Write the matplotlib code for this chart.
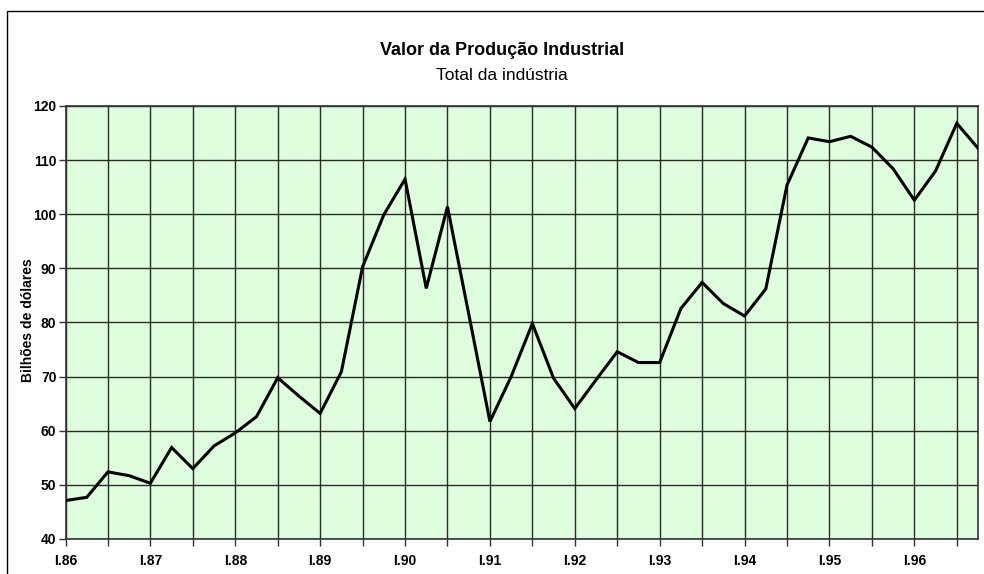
import matplotlib
matplotlib.use("Agg")
import matplotlib.pyplot as plt
from matplotlib.patches import Rectangle

plt.rcParams['font.family'] = ['Liberation Sans', 'DejaVu Sans']

# anos (rotulos do eixo x, um por ano, trimestre I)
anos = ["I.86", "I.87", "I.88", "I.89", "I.90", "I.91",
        "I.92", "I.93", "I.94", "I.95", "I.96"]

# valor trimestral, bilhoes de dolares (I.86 .. IV.96)
valores = [
    47.1, 47.7, 52.4, 51.7,
    50.3, 56.9, 53.0, 57.2,
    59.6, 62.6, 69.8, 66.4,
    63.2, 70.9, 90.3, 99.9,
    106.5, 86.3, 101.4, 81.6,
    61.7, 70.0, 79.8, 69.7,
    64.1, 69.4, 74.6, 72.6,
    72.6, 82.6, 87.4, 83.5,
    81.2, 86.2, 105.4, 114.1,
    113.4, 114.4, 112.4, 108.4,
    102.6, 108.0, 116.8, 112.2,
]

fig = plt.figure(figsize=(9.84, 5.74), dpi=100)
ax = fig.add_axes([65.5 / 984, 1 - 539 / 574, (978 - 65.5) / 984, (539 - 106) / 574])

x = list(range(len(valores)))
ax.set_facecolor('#ddfddd')
ax.plot(x, valores, color='black', lw=2.2, zorder=3, solid_joinstyle='miter')

ax.set_xlim(0, len(valores) - 1)
ax.set_ylim(40, 120)
ax.set_yticks(range(40, 121, 10))

semestres = list(range(0, len(valores), 2))
ax.set_xticks(semestres)
ax.set_xticklabels([anos[i // 4] if i % 4 == 0 else "" for i in semestres])

ax.grid(True, color='#2a2a2a', lw=1.0, zorder=1)
ax.set_axisbelow(True)
for s in ax.spines.values():
    s.set_color('#333333')
    s.set_linewidth(1.2)

ax.tick_params(axis='both', direction='out', length=5, width=1, color='#333333',
               labelsize=10)
ax.tick_params(axis='y', pad=1.5)
ax.tick_params(axis='x', pad=6)
for lab in ax.get_xticklabels() + ax.get_yticklabels():
    lab.set_fontweight('bold')

fig.text(28 / 984, 1 - 320 / 574, "Bilhões de dólares", rotation=90,
         ha='center', va='center', fontsize=10, fontweight='bold')

fig.text(502 / 984, 1 - 55 / 574, "Valor da Produção Industrial",
         ha='center', va='baseline', fontsize=13, fontweight='bold')
fig.text(502 / 984, 1 - 80 / 574, "Total da indústria",
         ha='center', va='baseline', fontsize=12.5)

# moldura externa do grafico
fig.patches.append(Rectangle((7 / 984, -0.1), 1.2, 1.1 - 11 / 574,
                             transform=fig.transFigure, fill=False,
                             edgecolor='black', lw=1.0))

fig.savefig("out.png", dpi=100)
